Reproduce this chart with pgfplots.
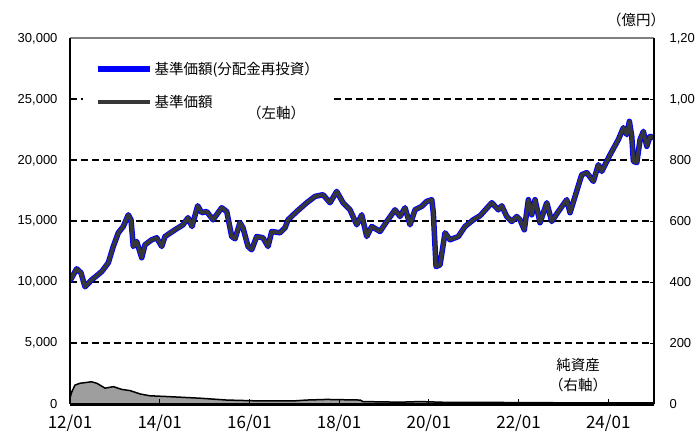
\documentclass[border=0pt]{standalone}
\usepackage{pgfplots}
\pgfplotsset{compat=1.18}
\usepackage{pgfplotstable}
\usepackage{fontspec}
\setmainfont{Liberation Sans}
\newfontfamily\cjk{Noto Sans CJK JP}

% 基準価額 (円), t = 年
\pgfplotstableread{
t nav
2012.000 10100
2012.149 11100
2012.245 10770
2012.334 9620
2012.484 10190
2012.707 10870
2012.854 11590
2012.965 12930
2013.077 14050
2013.188 14570
2013.300 15530
2013.360 15120
2013.411 12930
2013.487 13340
2013.599 12000
2013.672 13070
2013.822 13480
2013.933 13640
2014.045 12930
2014.118 13750
2014.341 14300
2014.520 14710
2014.631 15290
2014.720 14570
2014.847 16270
2014.936 15700
2015.048 15800
2015.188 15120
2015.382 16110
2015.494 15800
2015.605 13750
2015.679 13560
2015.790 14880
2015.857 14460
2015.969 12930
2016.051 12660
2016.163 13750
2016.303 13640
2016.415 12930
2016.497 14160
2016.682 14050
2016.794 14460
2016.861 15120
2017.055 15800
2017.278 16520
2017.463 17040
2017.641 17180
2017.797 16520
2017.946 17450
2018.087 16520
2018.243 15940
2018.393 14710
2018.504 15530
2018.616 13750
2018.727 14570
2018.912 14160
2019.062 14980
2019.246 15940
2019.358 15390
2019.469 16110
2019.581 14710
2019.692 15940
2019.842 16220
2019.953 16630
2020.065 16770
2020.100 15700
2020.161 11280
2020.250 11420
2020.361 14050
2020.473 13480
2020.658 13750
2020.807 14570
2020.992 15120
2021.142 15450
2021.403 16520
2021.550 15940
2021.626 16270
2021.737 15390
2021.849 14980
2021.960 15390
2022.033 15120
2022.129 14300
2022.219 16770
2022.294 15530
2022.368 16770
2022.479 14880
2022.629 16520
2022.740 14980
2022.887 15800
2023.075 16770
2023.148 15700
2023.260 17040
2023.409 18820
2023.520 18990
2023.668 18270
2023.779 19640
2023.855 19090
2024.040 20460
2024.225 21700
2024.337 22680
2024.413 22110
2024.471 23200
2024.524 21970
2024.560 19920
2024.636 19810
2024.709 21700
2024.783 22380
2024.859 21150
2024.932 21970
2025.020 21860
}\navtable

% 純資産 (億円)
\pgfplotstableread{
t aum
2012.000 20
2012.040 40
2012.110 62
2012.220 68
2012.480 73
2012.600 68
2012.780 52
2012.970 57
2013.150 48
2013.340 44
2013.560 33
2013.780 27
2014.230 24
2014.900 19
2015.490 13
2016.240 10
2016.970 10
2017.280 13
2017.720 15
2018.470 13
2018.530 8
2019.360 6
2019.800 8
2020.470 5
2021.590 5
2022.930 4
2025.020 4
}\aumtable

\definecolor{navblue}{RGB}{0,0,255}
\definecolor{navgray}{RGB}{55,55,55}

\begin{document}
\begin{tikzpicture}[x=1pt,y=1pt]
% right axis: net assets
\begin{axis}[
  name=right,
  at={(70pt,35pt)}, anchor=south west,
  scale only axis, width=584pt, height=365.5pt,
  xmin=2012, xmax=2025.02,
  ymin=0, ymax=1200,
  axis line style={draw=none},
  xtick=\empty,
  ytick={0,200,...,1200},
  ytick pos=right,
  tick align=inside,
  major tick length=4pt,
  tick style={black, line width=1pt},
  scaled y ticks=false,
  yticklabel style={font=\fontsize{13}{13}\selectfont, anchor=west, xshift=12pt,
    /pgf/number format/1000 sep={,}, /pgf/number format/assume math mode=true},
]
\addplot[fill=black!38, draw=black, line width=1.5pt] table[x=t, y=aum]{\aumtable} \closedcycle;
\end{axis}

% left axis: NAV
\begin{axis}[
  name=main,
  at={(70pt,35pt)}, anchor=south west,
  scale only axis, width=584pt, height=365.5pt,
  xmin=2012, xmax=2025.02,
  ymin=0, ymax=30000,
  axis line style={draw=none},
  xtick={2012,2014,...,2024},
  xticklabels={12/01,14/01,16/01,18/01,20/01,22/01,24/01},
  ytick={0,5000,...,30000},
  tick pos=left,
  tick align=inside,
  major tick length=5pt,
  tick style={black, line width=1pt},
  scaled y ticks=false,
  ymajorgrids,
  grid style={black, line width=2pt, dash pattern=on 7pt off 4pt},
  yticklabel style={font=\fontsize{13}{13}\selectfont, anchor=east, xshift=-9pt,
    /pgf/number format/1000 sep={,}, /pgf/number format/assume math mode=true},
  xticklabel style={font=\cjk\fontsize{17}{17}\selectfont, yshift=-7pt},
  legend image code/.code={\draw[#1] (0pt,0pt) -- (52pt,0pt);},
  legend style={draw=none, fill=white, at={(0.022,0.963)}, anchor=north west,
    inner xsep=12pt, inner ysep=8pt, row sep=15pt,
    font=\cjk\fontsize{14.5}{14.5}\selectfont, cells={anchor=west}},
]
\addplot[navblue, line width=5.5pt, line join=round] table[x=t, y=nav]{\navtable};
\addlegendentry{基準価額(分配金再投資）}
\addplot[navgray, line width=3.6pt, line join=round] table[x=t, y=nav]{\navtable};
\addlegendentry{基準価額}
\end{axis}

% frame
\draw[black!50, line width=2pt] (main.north west) -- (main.north east);
\draw[black, line width=2pt] (main.south west) -- (main.north west);
\draw[black, line width=1.5pt] (main.south east) -- (main.north east);
\draw[black, line width=3pt] (main.south west) -- (main.south east);

% texts
\node[font=\cjk\fontsize{14.5}{14.5}\selectfont] at (276,326) {（左軸）};
\node[font=\cjk\fontsize{14.5}{14.5}\selectfont] at (636,419) {（億円）};
\node[font=\cjk\fontsize{14.5}{14.5}\selectfont] at (578,74) {純資産};
\node[font=\cjk\fontsize{14.5}{14.5}\selectfont] at (578,54) {（右軸）};

\pgfresetboundingbox
\useasboundingbox (0,0) rectangle (695,439);
\end{tikzpicture}
\end{document}
